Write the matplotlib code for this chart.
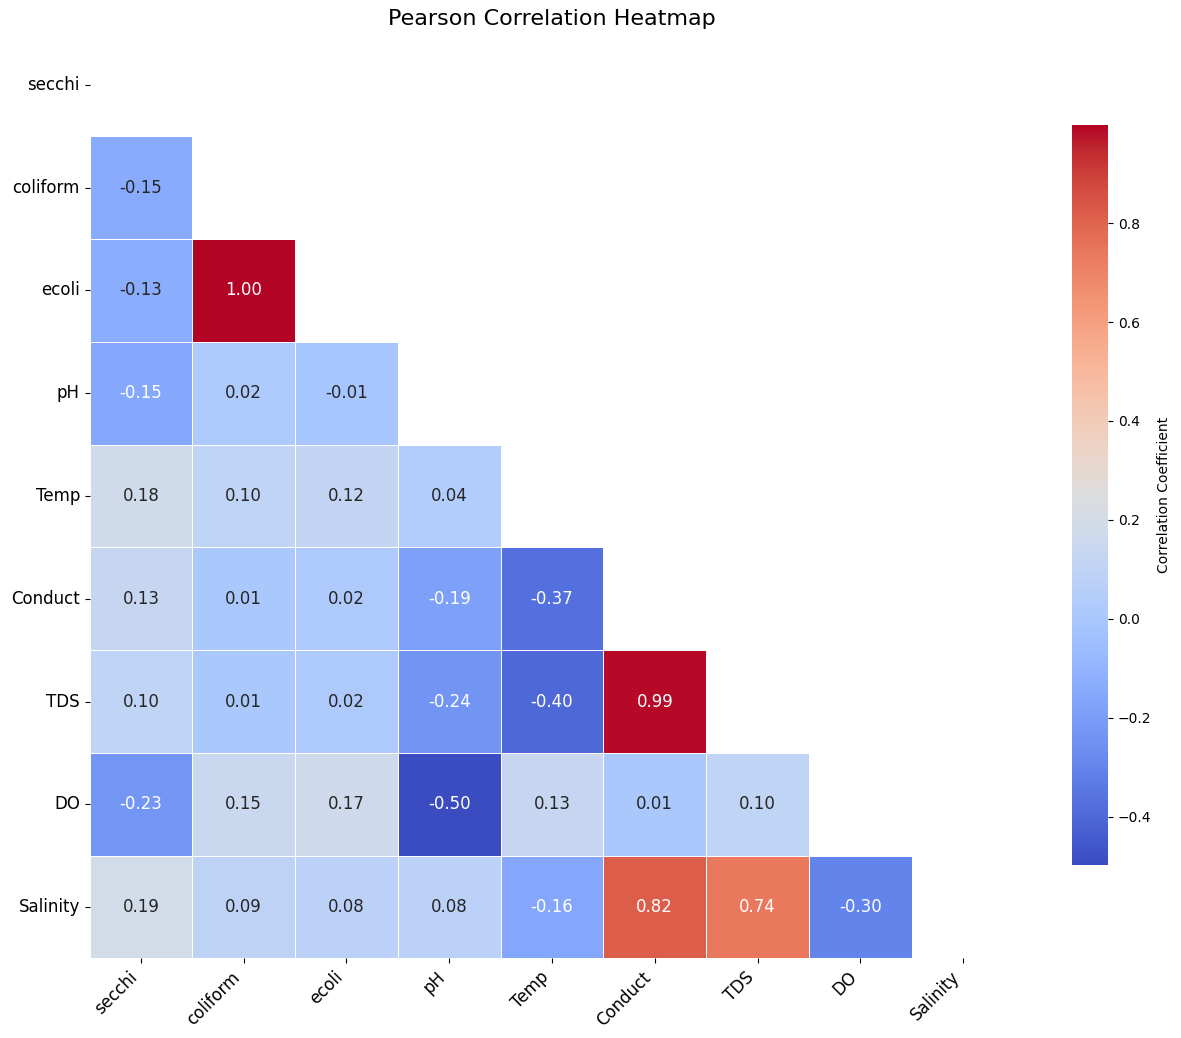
import numpy as np
import pandas as pd
import matplotlib
matplotlib.use("Agg")
import matplotlib.pyplot as plt
import seaborn as sns

# Variables in the correlation matrix
variables = ['secchi', 'coliform', 'ecoli', 'pH', 'Temp', 'Conduct', 'TDS', 'DO', 'Salinity']

# Lower-triangle Pearson coefficients, one list per row (columns before the diagonal)
row_coliform = [-0.1451]
row_ecoli = [-0.13, 0.998]
row_ph = [-0.154, 0.02, -0.01]
row_temp = [0.18, 0.10, 0.12, 0.04]
row_conduct = [0.13, 0.01, 0.02, -0.19, -0.37]
row_tds = [0.10, 0.01, 0.02, -0.24, -0.40, 0.99]
row_do = [-0.23, 0.15, 0.17, -0.497, 0.13, 0.01, 0.10]
row_salinity = [0.19, 0.09, 0.08, 0.08, -0.16, 0.82, 0.74, -0.30]

lower_rows = [[], row_coliform, row_ecoli, row_ph, row_temp,
              row_conduct, row_tds, row_do, row_salinity]

# Build the full symmetric matrix
n = len(variables)
corr = np.eye(n)
for i, row in enumerate(lower_rows):
    for j, v in enumerate(row):
        corr[i, j] = v
        corr[j, i] = v
corr_df = pd.DataFrame(corr, index=variables, columns=variables)

mask = np.triu(np.ones_like(corr, dtype=bool))

W, H = 1181, 1038
fig = plt.figure(figsize=(W / 100, H / 100), dpi=100)
ax = fig.add_axes([89.6 / W, (H - 958.4) / H, 924.8 / W, 924.8 / H])
cax = fig.add_axes([1072 / W, (H - 865) / H, 36 / W, 740 / H])

sns.heatmap(corr_df, mask=mask, annot=True, fmt='.2f', cmap='coolwarm',
            linewidths=0.6, linecolor='white', square=True, ax=ax, cbar_ax=cax,
            annot_kws={'size': 12},
            cbar_kws={'label': 'Correlation Coefficient'})

ax.set_title('Pearson Correlation Heatmap', fontsize=16)
ax.set_xticklabels(ax.get_xticklabels(), rotation=45, ha='right', fontsize=12)
ax.set_yticklabels(ax.get_yticklabels(), rotation=0, fontsize=12)
cax.tick_params(labelsize=10)

fig.savefig('out.png', dpi=100)
